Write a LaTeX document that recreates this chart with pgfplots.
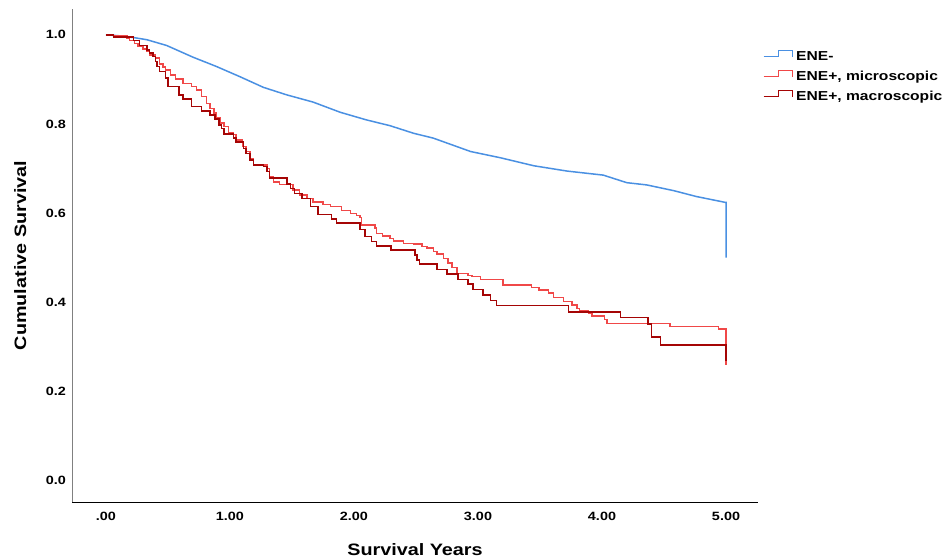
\documentclass[border=0pt]{standalone}
\usepackage{fontspec}
\setmainfont{Liberation Sans}[FakeStretch=1.2]
\usepackage{pgfplots}
\pgfplotsset{compat=1.18}
\definecolor{eneneg}{RGB}{74,144,226}
\definecolor{micro}{RGB}{240,72,72}
\definecolor{macro}{RGB}{165,5,5}
\begin{document}
\begin{tikzpicture}
\path[use as bounding box] (0,0) rectangle (947pt,557pt);
\begin{axis}[
  at={(72pt,55pt)}, anchor=south west,
  scale only axis, width=686pt, height=493pt,
  xmin=-0.274, xmax=5.258, ymin=-0.049, ymax=1.058,
  axis x line=bottom, axis y line=left,
  axis line style={-},
  x axis line style={black, line width=1pt},
  y axis line style={gray, line width=1pt},
  major tick length=0pt,
  xtick={0,1,2,3,4,5}, xticklabels={.00,1.00,2.00,3.00,4.00,5.00},
  ytick={0,0.2,0.4,0.6,0.8,1.0}, yticklabels={0.0,0.2,0.4,0.6,0.8,1.0},
  ticklabel style={font=\fontsize{12pt}{14pt}\selectfont\bfseries},
  xticklabel style={inner sep=0pt, yshift=-10pt},
  yticklabel style={inner sep=0pt, xshift=-6pt},
  xlabel={Survival Years}, ylabel={Cumulative Survival},
  label style={font=\fontsize{16.5pt}{19pt}\selectfont\bfseries},
  xlabel style={at={(axis description cs:0.5,0)}, anchor=base, yshift=-53pt},
  ylabel style={at={(axis description cs:-0.067,0.5)}, anchor=base},
  legend style={at={(1.0073,0.917)}, anchor=north west, draw=none, fill=none,
    inner sep=0pt, row sep=7pt,
    font=\fontsize{13pt}{15pt}\selectfont\bfseries,
    nodes={inner sep=0pt, text height=9.5pt, text depth=2.5pt},
    /tikz/every odd column/.append style={column sep=3pt}},
  legend cell align=left,
  legend image code/.code={\draw[#1, line width=1pt] (0pt,0.5pt) -- (15pt,0.5pt) -- (15pt,6.5pt) -- (29pt,6.5pt) -- (29pt,0.5pt);},
  every axis plot/.append style={line width=1.5pt},
  clip=false,
]
\addplot[eneneg, sharp plot] coordinates {
(0,1.0) (0.10,0.998) (0.22,0.994) (0.33,0.989) (0.49,0.976) (0.70,0.950)
(0.89,0.929) (1.08,0.906) (1.27,0.882) (1.46,0.865) (1.67,0.849) (1.89,0.826)
(2.10,0.809) (2.29,0.796) (2.48,0.779) (2.64,0.768) (2.94,0.738) (3.18,0.724)
(3.45,0.706) (3.72,0.694) (4.01,0.685) (4.20,0.668) (4.36,0.663) (4.58,0.650)
(4.76,0.637) (4.99,0.624) (5.0,0.624) (5.0,0.500)
};
\addlegendentry{ENE-}
\addplot[micro, const plot] coordinates {
(0,1.0) (0.06,0.997) (0.17,0.993) (0.19,0.987) (0.23,0.981) (0.26,0.974)
(0.30,0.968) (0.33,0.962) (0.35,0.955) (0.40,0.948) (0.43,0.935) (0.46,0.928)
(0.48,0.921) (0.52,0.910) (0.56,0.901) (0.62,0.891) (0.69,0.884) (0.73,0.876)
(0.77,0.861) (0.81,0.846) (0.84,0.835) (0.87,0.824) (0.89,0.813) (0.92,0.802)
(0.95,0.794) (0.99,0.779) (1.03,0.776) (1.05,0.764) (1.10,0.749) (1.13,0.738)
(1.16,0.722) (1.19,0.708) (1.30,0.700) (1.32,0.682) (1.35,0.670) (1.40,0.664)
(1.51,0.652) (1.56,0.640) (1.62,0.632) (1.67,0.625) (1.75,0.619) (1.81,0.614)
(1.90,0.605) (1.97,0.599) (2.02,0.594) (2.05,0.590) (2.06,0.573) (2.17,0.566)
(2.18,0.554) (2.23,0.548) (2.29,0.543) (2.32,0.537) (2.40,0.532) (2.48,0.530)
(2.55,0.525) (2.59,0.521) (2.64,0.514) (2.67,0.508) (2.72,0.498) (2.76,0.488)
(2.79,0.478) (2.83,0.464) (2.92,0.460) (2.95,0.457) (3.02,0.451) (3.20,0.438)
(3.43,0.433) (3.49,0.427) (3.57,0.420) (3.61,0.410) (3.69,0.401) (3.76,0.393)
(3.80,0.386) (3.82,0.380) (3.89,0.375) (3.92,0.369) (4.02,0.361) (4.04,0.352)
(4.55,0.345) (4.94,0.339) (5.00,0.258)
};
\addlegendentry{ENE+, microscopic}
\addplot[macro, const plot] coordinates {
(0,1.0) (0.06,0.995) (0.22,0.987) (0.27,0.976) (0.33,0.966) (0.35,0.959)
(0.38,0.951) (0.40,0.940) (0.41,0.929) (0.43,0.918) (0.48,0.903) (0.50,0.884)
(0.59,0.865) (0.62,0.856) (0.69,0.839) (0.77,0.829) (0.84,0.820) (0.88,0.811)
(0.91,0.798) (0.93,0.790) (0.95,0.777) (1.03,0.768) (1.05,0.759) (1.11,0.745)
(1.13,0.734) (1.16,0.719) (1.19,0.708) (1.27,0.704) (1.30,0.693) (1.32,0.678)
(1.46,0.665) (1.49,0.655) (1.52,0.644) (1.58,0.633) (1.65,0.614) (1.71,0.596)
(1.82,0.586) (1.86,0.577) (2.05,0.563) (2.09,0.547) (2.14,0.536) (2.18,0.526)
(2.30,0.517) (2.49,0.506) (2.51,0.494) (2.53,0.485) (2.67,0.473) (2.75,0.463)
(2.84,0.451) (2.92,0.440) (2.96,0.428) (3.04,0.416) (3.10,0.404) (3.15,0.392)
(3.73,0.378) (4.15,0.365) (4.37,0.351) (4.40,0.321) (4.47,0.304) (5.00,0.268)
};
\addlegendentry{ENE+, macroscopic}
\end{axis}
\end{tikzpicture}
\end{document}
